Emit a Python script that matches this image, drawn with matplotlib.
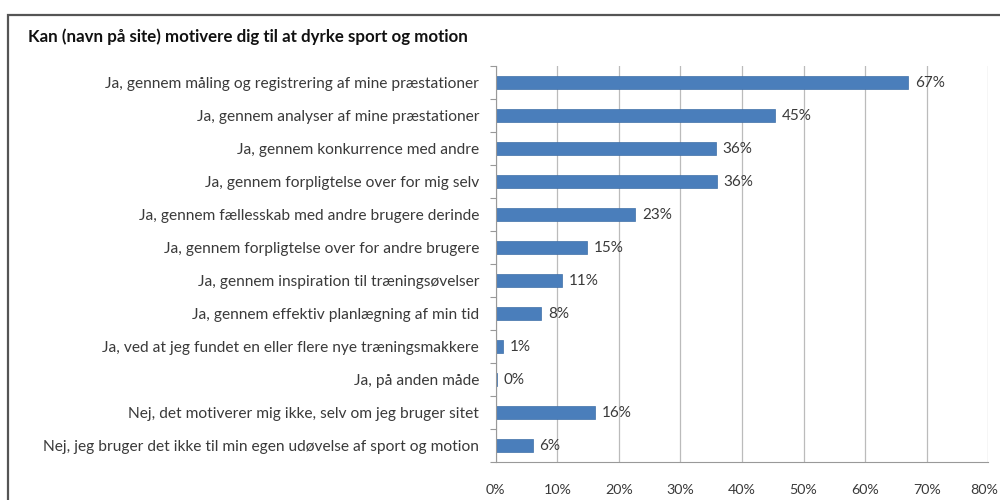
import matplotlib
matplotlib.use("Agg")
import matplotlib.pyplot as plt
import matplotlib.transforms as mtransforms
from matplotlib.patches import Rectangle
from matplotlib.ticker import FixedLocator, PercentFormatter

title = "Kan (navn på site) motivere dig til at dyrke sport og motion"
categories = [
    "Ja, gennem måling og registrering af mine præstationer",
    "Ja, gennem analyser af mine præstationer",
    "Ja, gennem konkurrence med andre",
    "Ja, gennem forpligtelse over for mig selv",
    "Ja, gennem fællesskab med andre brugere derinde",
    "Ja, gennem forpligtelse over for andre brugere",
    "Ja, gennem inspiration til træningsøvelser",
    "Ja, gennem effektiv planlægning af min tid",
    "Ja, ved at jeg fundet en eller flere nye træningsmakkere",
    "Ja, på anden måde",
    "Nej, det motiverer mig ikke, selv om jeg bruger sitet",
    "Nej, jeg bruger det ikke til min egen udøvelse af sport og motion",
]
values = [67.0, 45.3, 35.7, 35.9, 22.7, 14.9, 10.7, 7.4, 1.2, 0.2, 16.1, 6.0]
value_labels = ["67%", "45%", "36%", "36%", "23%", "15%", "11%", "8%", "1%", "0%", "16%", "6%"]
xticks = [0, 10, 20, 30, 40, 50, 60, 70, 80]

FONT = ["Lato", "DejaVu Sans"]
plt.rcParams["font.family"] = FONT

fig = plt.figure(figsize=(10, 5), dpi=100)
fig.patch.set_facecolor("white")

# outer chart border (extends past image edge)
fig.add_artist(Rectangle((8 / 1000, -0.1), 1.1, 1 - 15 / 500 + 0.1,
                         transform=fig.transFigure, fill=False,
                         edgecolor="#555555", linewidth=1.6))

fig.text(28 / 1000, 1 - 37 / 500, title, fontsize=12.2, fontweight="bold",
         color="#111111", va="center", ha="left")

ax = fig.add_axes([495.7 / 1000, 1 - 462 / 500, (988.3 - 495.7) / 1000, (462 - 66) / 500])
n = len(categories)
ypos = list(range(n))
ax.barh(ypos, values, height=0.4, color="#4A7EBB", edgecolor="#3F6FA8", linewidth=0.5)
ax.set_ylim(n - 0.5, -0.5)
ax.set_xlim(0, 80)

ax.set_yticks(ypos)
ax.set_yticklabels(categories, fontsize=11.2, color="#3A3A3A")
ax.yaxis.set_minor_locator(FixedLocator([i - 0.5 for i in range(n + 1)]))
ax.tick_params(axis="y", which="major", length=0, pad=12)
ax.tick_params(axis="y", which="minor", length=4, color="#999999", width=0.8)

ax.set_xticks(xticks)
ax.xaxis.set_major_formatter(PercentFormatter(decimals=0))
ax.tick_params(axis="x", length=0, pad=16, labelsize=10.3, labelcolor="#3A3A3A")

ax.grid(axis="x", color="#BBBBBB", linewidth=0.9)
ax.set_axisbelow(True)
for s in ["top", "right"]:
    ax.spines[s].set_visible(False)
ax.spines["left"].set_color("#999999")
ax.spines["bottom"].set_color("#999999")
ax.spines["left"].set_linewidth(0.8)
ax.spines["bottom"].set_linewidth(0.8)

for y, v, lab in zip(ypos, values, value_labels):
    ax.text(v + 1.1, y, lab, va="center", ha="left", fontsize=11, color="#3A3A3A")

# nudge the last x tick label slightly left so it stays inside the image
fig.canvas.draw()
last = ax.get_xticklabels()[-1]
last.set_transform(last.get_transform() + mtransforms.ScaledTranslation(-4 / 100, 0, fig.dpi_scale_trans))

fig.savefig("out.png", dpi=100, facecolor="white")
